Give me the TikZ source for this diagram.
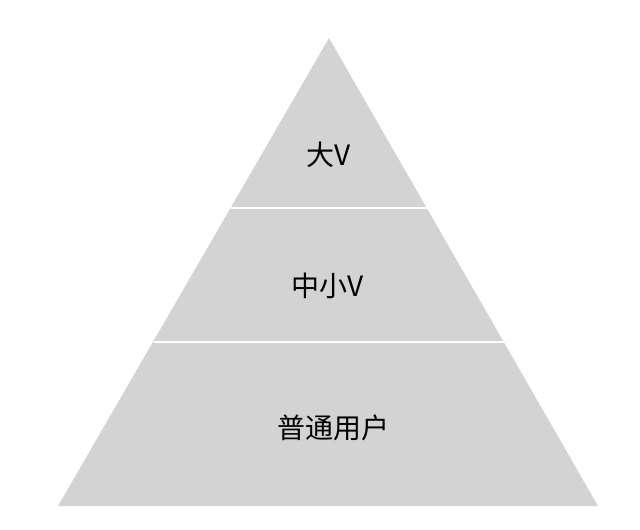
\documentclass[tikz,border=0pt]{standalone}
\usepackage{fontspec}
\newfontfamily\cjk{Noto Sans CJK SC}
\definecolor{pyrgray}{RGB}{211,211,211}
\tikzset{
  lvl/.style={font=\cjk\fontsize{28}{30}\selectfont, text=black, inner sep=0pt},
  divider/.style={draw=white, line width=1.2pt}
}
\begin{document}
\begin{tikzpicture}[x=1pt,y=-1pt]
\useasboundingbox (0,0) rectangle (640,530);
\fill[white] (0,0) rectangle (640,530);
\coordinate (apex) at (329,38);
\coordinate (bl) at (58,506);
\coordinate (br) at (598,506);
\fill[pyrgray] (apex) -- (br) -- (bl) -- cycle;
\coordinate (d1l) at (231,208);
\coordinate (d1r) at (427,208);
\coordinate (d2l) at (154,342);
\coordinate (d2r) at (504,342);
\draw[divider] (d1l) -- (d1r);
\draw[divider] (d2l) -- (d2r);
\node[lvl] (top) at (329,155) {大V};
\node[lvl] (mid) at (328,286) {中小V};
\node[lvl] (bot) at (333,428) {普通用户};
\end{tikzpicture}
\end{document}
